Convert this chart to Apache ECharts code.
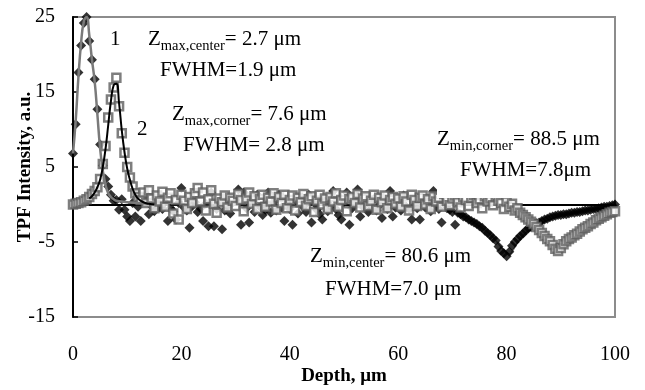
<!DOCTYPE html>
<html lang="en">
<head>
    <meta charset="UTF-8">
    <title>TPF Intensity vs Depth</title>
    <style>
        body { margin: 0; background: #fff; }
    </style>
</head>
<body>
<div id="main" style="width: 645px;height:390px;"></div>
<script src="https://cdn.jsdelivr.net/npm/echarts@6/dist/echarts.min.js"></script>
<script>
    // depth step of the measurement, um
    var depthStep = 0.5;

    // curve 1 (center), black diamonds, one value per 0.5 um from 0 to 100
    var centerVals = [
        6.8, 10.7, 17.6, 21.2, 24.2, 25.0, 21.8, 19.3, 16.7, 12.7, 8.0, 5.2, 3.4, 2.4, 1.3, 0.5, 0.6, -0.7, 0.7, -0.7,
        -1.6, -2.2, 0.2, -1.6, -0.3, -2.2, 0.5, 1.3, -1.3, -0.2, -0.9, 0.4, -0.4, -0.6, 0.3, -2.2, -0.5, -0.9, -2.0, 0.2,
        2.2, -0.4, -0.8, -3.1, -0.2, 0.3, -1.0, -0.5, -2.2, 0.1, -2.9, 1.6, -2.9, -0.6, 0.4, -3.3, -0.8, -0.2, -1.2, 0.3,
        0.6, 2.0, -2.7, 1.6, -0.5, -2.4, 0.2, -1.0, 1.3, -0.3, -1.4, -0.7, 1.6, -1.1, 0.3, -0.8, 1.3, -0.4, -2.2, 0.1,
        -0.6, -2.7, 0.4, -1.2, 0.8, -0.3, -1.0, 1.3, -2.4, 0.2, -0.7, -1.3, -2.0, 0.4, -0.9, -0.2, 1.8, -0.6, -1.4, -2.0,
        0.3, 1.6, -2.7, -0.5, 0.6, 2.0, -1.6, -0.3, 0.4, -1.0, -0.2, 0.7, -0.8, -0.1, -1.8, 0.3, -0.6, 1.8, -1.6, -0.4,
        0.5, -0.8, 1.2, -0.3, -0.6, -2.0, 0.2, -0.5, -2.0, 0.9, -0.4, 0.3, -0.9, 1.8, -0.2, -0.6, -2.4, 0.1, -0.5, -0.7,
        -1.0, -2.7, -1.1, -1.3, -1.6, -1.7, -2.0, -2.2, -2.4, -2.6, -2.9, -3.1, -3.5, -3.8, -4.1, -4.5, -4.8, -5.6, -6.2, -6.5,
        -6.9, -6.3, -5.5, -5.0, -4.6, -4.2, -3.9, -3.5, -3.2, -3.0, -2.8, -2.5, -2.4, -2.2, -2.0, -1.9, -1.7, -1.6, -1.5, -1.4,
        -1.4, -1.3, -1.3, -1.2, -1.1, -1.1, -1.0, -1.0, -0.9, -0.8, -0.8, -0.7, -0.6, -0.6, -0.5, -0.4, -0.3, -0.3, -0.2, -0.1, 0.0
    ];

    // curve 2 (corner), gray squares
    var cornerVals = [
        0.0, 0.1, 0.2, 0.3, 0.5, 0.7, 1.0, 1.4, 1.8, 2.3, 3.4, 5.4, 7.8, 11.6, 14.0, 15.6, 16.9, 13.1, 9.5, 6.9,
        5.0, 3.6, 2.4, 1.5, 1.0, 0.6, 1.6, 0.2, 1.9, 0.8, -0.5, 1.2, 0.4, 1.7, -0.3, 0.9, 1.5, -1.2, 0.6, -2.0,
        1.3, 0.5, -0.6, 1.0, 0.2, 1.5, 2.2, 0.4, 1.6, -0.8, 0.7, 1.9, 0.1, -1.1, 0.8, 0.3, 1.2, -0.4, 0.9, 0.5,
        -0.2, 1.4, 0.6, -0.9, 0.8, 1.6, 0.1, 1.1, -0.6, 0.7, 1.3, -0.3, 0.9, 0.4, 1.5, -0.7, 1.0, 0.2, 1.3, -0.5,
        0.6, 1.2, -0.8, 0.9, 0.3, 1.4, -0.2, 0.7, 1.1, -1.0, 0.5, 1.3, 0.0, 0.8, -0.6, 1.0, 0.4, 1.5, -0.3, 0.6,
        1.2, -0.9, 0.7, 1.0, 0.2, 1.4, -0.4, 0.8, 1.1, -0.2, 0.5, 1.3, -0.7, 0.9, 0.3, 1.2, -0.5, 0.6, 1.0, 0.1,
        0.8, -0.3, 1.1, 0.4, -0.8, 1.3, 0.6, -0.2, 0.9, 1.2, 0.0, 0.7, -0.6, 1.1, 0.4, 0.9, -0.3, 1.4, 0.5, -0.1,
        0.8, 1.2, 0.3, -0.4, 1.0, 0.6, -0.2, 0.9, 1.3, 0.2, 0.7, -0.5, 1.1, 0.4, 0.8, -0.1, 1.1, 0.5, 0.2, -0.6,
        0.4, -0.3, 0.1, -0.8, -0.5, -1.1, -1.4, -1.7, -2.0, -2.3, -2.6, -3.0, -3.4, -3.8, -4.2, -4.6, -4.9, -5.4, -5.9, -6.2,
        -5.8, -5.3, -4.9, -4.6, -4.4, -4.1, -3.9, -3.6, -3.3, -3.1, -2.9, -2.6, -2.4, -2.1, -1.9, -1.7, -1.5, -1.3, -1.1, -1.0, -0.9
    ];

    // fitted curves
    var fitCenterPeakX = [0, 0.5, 1, 1.5, 2, 2.5, 3, 3.5, 4, 4.5, 5, 5.5, 6, 6.5, 7, 7.5, 8, 9, 10, 12, 14];
    var fitCenterPeakY = [6.8, 11.2, 17.0, 21.6, 24.4, 25.0, 22.6, 19.3, 16.4, 12.0, 7.5, 4.5, 2.6, 1.5, 1.0, 0.7, 0.5, 0.4, 0.3, 0.2, 0.1];

    var fitCornerPeakX = [3, 3.5, 4, 4.5, 5, 5.5, 6, 6.5, 7, 7.5, 8, 8.5, 9, 9.5, 10, 10.5, 11, 11.5, 12, 13, 14, 15];
    var fitCornerPeakY = [0.8, 1.1, 1.6, 2.3, 3.3, 5.0, 7.4, 10.6, 13.8, 15.9, 16.1, 13.5, 9.9, 7.0, 4.8, 3.3, 2.1, 1.3, 0.8, 0.3, 0.1, 0.0];

    var fitCenterDipX = [62, 66, 70, 72, 74, 76, 77, 78, 79, 80, 80.6, 81, 82, 83, 84, 86, 88, 90, 92, 95, 98, 100];
    var fitCenterDipY = [0.0, -0.3, -0.9, -1.5, -2.4, -3.4, -4.0, -4.8, -5.7, -6.4, -6.6, -6.3, -5.1, -4.2, -3.5, -2.6, -2.0, -1.5, -1.2, -0.8, -0.4, -0.1];

    var xTicks = [0, 100, 20];      // min, max, interval
    var yTicks = [-15, 25, 10];

    var serif = 'Liberation Serif';

    function pairs(xs, ys) {
        var out = [];
        for (var i = 0; i < ys.length; i++) {
            out.push([xs[i], ys[i]]);
        }
        return out;
    }

    function stepPairs(ys) {
        var out = [];
        for (var i = 0; i < ys.length; i++) {
            out.push([i * depthStep, ys[i]]);
        }
        return out;
    }

    // rich text with subscript
    var richStyle = {
        m: {fontSize: 21, fontFamily: serif, fill: '#000', lineHeight: 22, verticalAlign: 'top'},
        s: {fontSize: 14.5, fontFamily: serif, fill: '#000', lineHeight: 14, verticalAlign: 'top', padding: [10, 0, 0, 0]}
    };

    function note(x, y, text) {
        return {
            type: 'text',
            x: x,
            y: y,
            z: 101,
            style: {
                text: text,
                rich: richStyle,
                font: '21px ' + serif,
                fill: '#000',
                verticalAlign: 'middle'
            }
        };
    }

    function zNote(x, y, sub, rest) {
        return note(x, y, '{m|Z}{s|' + sub + '}{m|' + rest + '}');
    }

    var myChart = echarts.init(document.getElementById('main'));

    var option = {
        animation: false,
        backgroundColor: '#fff',
        grid: {
            left: 73,
            right: 30,
            top: 17,
            bottom: 73,
            outerBoundsMode: 'none',
            show: true,
            borderColor: '#8c8c8c',
            borderWidth: 2
        },
        xAxis: [
            {
                type: 'value',
                min: xTicks[0],
                max: xTicks[1],
                interval: xTicks[2],
                name: 'Depth, \u03bcm',
                nameLocation: 'middle',
                nameGap: 50,
                nameMoveOverlap: false,
                nameTextStyle: {fontFamily: serif, fontSize: 19, fontWeight: 'bold', color: '#000'},
                axisLine: {show: false, onZero: false},
                axisTick: {show: false},
                splitLine: {show: false},
                axisLabel: {fontFamily: serif, fontSize: 20, color: '#000', margin: 28}
            },
            {
                // the zero line
                type: 'value',
                min: xTicks[0],
                max: xTicks[1],
                interval: xTicks[2],
                axisLine: {show: true, onZero: true, lineStyle: {color: '#000', width: 2}},
                axisTick: {show: true, inside: false, length: 4, lineStyle: {color: '#000', width: 1.5}},
                splitLine: {show: false},
                axisLabel: {show: false}
            }
        ],
        yAxis: {
            type: 'value',
            min: yTicks[0],
            max: yTicks[1],
            interval: yTicks[2],
            name: 'TPF Intensity, a.u.',
            nameLocation: 'middle',
            nameGap: 38,
            nameMoveOverlap: false,
            nameTextStyle: {fontFamily: serif, fontSize: 19, fontWeight: 'bold', color: '#000'},
            axisLine: {show: true, onZero: false, lineStyle: {color: '#000', width: 2}},
            axisTick: {show: true, inside: true, length: 5, lineStyle: {color: '#000', width: 1.5}},
            splitLine: {show: false},
            axisLabel: {fontFamily: serif, fontSize: 20, color: '#000', margin: 18}
        },
        series: [
            {
                name: 'center',
                type: 'scatter',
                symbol: 'diamond',
                symbolSize: 10,
                itemStyle: {color: '#000'},
                data: stepPairs(centerVals),
                z: 2
            },
            {
                name: 'corner',
                type: 'scatter',
                symbol: 'rect',
                symbolSize: 8,
                itemStyle: {color: '#fff', borderColor: '#5e5e5e', borderWidth: 2.5},
                data: stepPairs(cornerVals),
                z: 3
            },
            {
                name: 'fit center',
                type: 'line',
                smooth: true,
                showSymbol: false,
                lineStyle: {color: '#7a7a7a', width: 2.5},
                data: pairs(fitCenterPeakX, fitCenterPeakY),
                z: 4
            },
            {
                name: 'fit center dip',
                type: 'line',
                smooth: true,
                showSymbol: false,
                lineStyle: {color: '#7a7a7a', width: 1.5},
                data: pairs(fitCenterDipX, fitCenterDipY),
                z: 1
            },
            {
                name: 'fit corner',
                type: 'line',
                smooth: true,
                showSymbol: false,
                lineStyle: {color: '#000', width: 2},
                data: pairs(fitCornerPeakX, fitCornerPeakY),
                z: 4
            }
        ],
        graphic: [
            // white box behind the corner-minimum note
            {type: 'rect', z: 100, shape: {x: 437, y: 124, width: 176, height: 74}, style: {fill: '#fff'}},
            note(110, 40, '{m|1}'),
            zNote(148, 40, 'max,center', '= 2.7 \u03bcm'),
            note(160, 71, '{m|FWHM=1.9 \u03bcm}'),
            note(137, 130, '{m|2}'),
            zNote(172, 115, 'max,corner', '= 7.6 \u03bcm'),
            note(183, 146, '{m|FWHM= 2.8 \u03bcm}'),
            zNote(437, 140, 'min,corner', '= 88.5 \u03bcm'),
            note(460, 171, '{m|FWHM=7.8\u03bcm}'),
            zNote(310, 257, 'min,center', '= 80.6 \u03bcm'),
            note(325, 290, '{m|FWHM=7.0 \u03bcm}')
        ]
    };

    myChart.setOption(option);
</script>
</body>
</html>
